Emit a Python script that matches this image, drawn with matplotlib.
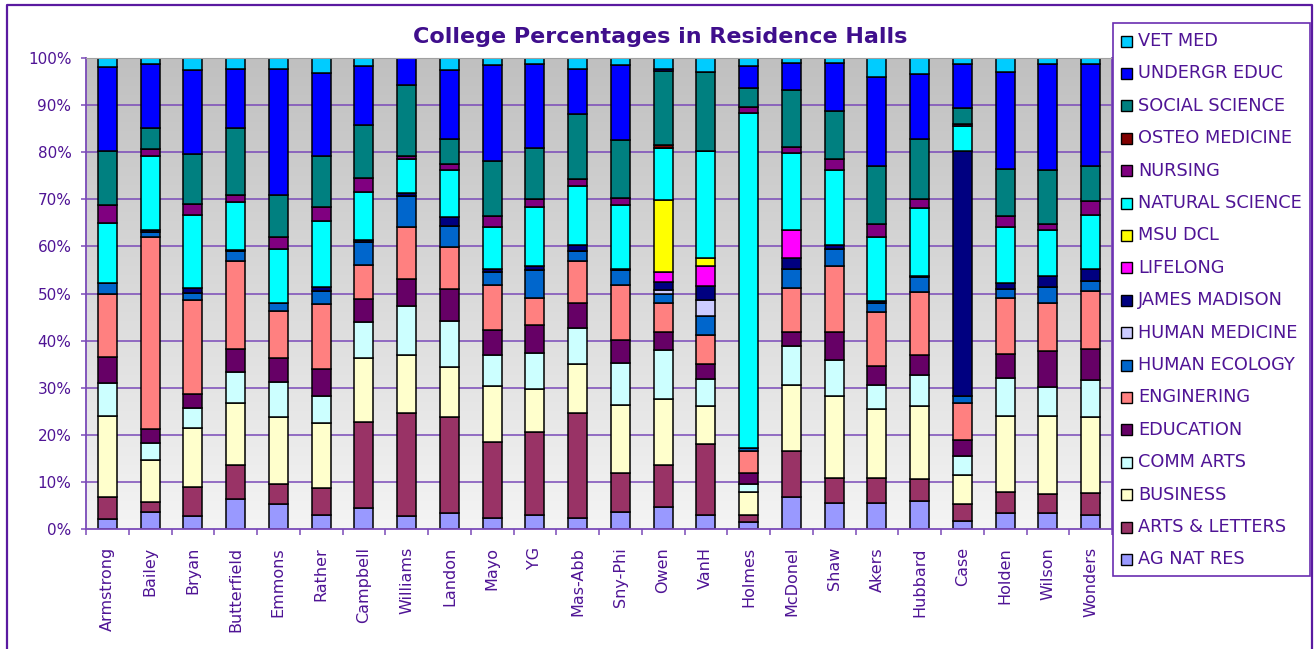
import numpy as np
import matplotlib
matplotlib.use("Agg")
import matplotlib.pyplot as plt
from matplotlib.patches import Rectangle
from matplotlib.lines import Line2D
from matplotlib.colors import LinearSegmentedColormap

halls = ["Armstrong", "Bailey", "Bryan", "Butterfield", "Emmons", "Rather", "Campbell",
         "Williams", "Landon", "Mayo", "YG", "Mas-Abb", "Sny-Phi", "Owen", "VanH",
         "Holmes", "McDonel", "Shaw", "Akers", "Hubbard", "Case", "Holden", "Wilson", "Wonders"]

ag_nat_res = [2.1, 3.7, 2.7, 6.4, 5.3, 3.0, 4.4, 2.7, 3.4, 2.3, 3.0, 2.3, 3.7, 4.7, 3.0, 1.4, 6.9, 5.6, 5.6, 5.9, 1.8, 3.4, 3.4, 3.0]
arts_letters = [4.6, 2.1, 6.3, 7.2, 4.2, 5.6, 18.3, 22.0, 20.3, 16.2, 17.5, 22.4, 8.2, 8.9, 15.1, 1.6, 9.6, 5.3, 5.3, 4.7, 3.5, 4.5, 4.0, 4.6]
business = [17.3, 8.7, 12.4, 13.1, 14.2, 13.9, 13.5, 12.2, 10.6, 11.9, 9.2, 10.3, 14.4, 14.1, 8.0, 4.9, 14.1, 17.3, 14.5, 15.5, 6.2, 16.1, 16.6, 16.1]
comm_arts = [6.9, 3.6, 4.3, 6.6, 7.5, 5.7, 7.8, 10.4, 9.8, 6.5, 7.7, 7.7, 8.9, 10.4, 5.7, 1.6, 8.2, 7.6, 5.2, 6.7, 3.9, 8.1, 6.2, 7.9]
education = [5.7, 3.1, 3.0, 5.0, 5.0, 5.7, 4.9, 5.7, 6.9, 5.3, 6.0, 5.3, 4.9, 3.7, 3.2, 2.4, 3.0, 6.0, 4.0, 4.1, 3.5, 5.1, 7.6, 6.7]
enginering = [13.3, 40.6, 20.0, 18.5, 10.1, 13.8, 7.2, 11.1, 8.9, 9.5, 5.7, 8.8, 11.8, 6.2, 6.1, 4.6, 9.4, 14.1, 11.4, 13.4, 7.8, 11.9, 10.2, 12.3]
human_ecology = [2.4, 1.0, 1.4, 2.2, 1.7, 2.8, 4.8, 6.5, 4.4, 2.9, 5.8, 2.3, 3.0, 1.9, 4.2, 0.8, 4.1, 3.6, 2.0, 3.2, 1.5, 1.9, 3.3, 2.0]
human_medicine = [0, 0, 0, 0, 0, 0, 0, 0, 0, 0, 0, 0, 0, 0.9, 3.4, 0, 0, 0, 0, 0, 0, 0, 0, 0]
james_madison = [0, 0.4, 1.1, 0.3, 0, 0.9, 0.5, 0.7, 1.9, 0.7, 1.0, 1.3, 0.4, 1.6, 2.9, 0, 2.3, 0.7, 0.4, 0.3, 52.0, 1.3, 2.4, 2.7]
lifelong = [0, 0, 0, 0, 0, 0, 0, 0, 0, 0, 0, 0, 0, 2.2, 4.2, 0, 5.8, 0, 0, 0, 0, 0, 0, 0]
msu_dcl = [0, 0, 0, 0, 0, 0, 0, 0, 0, 0, 0, 0, 0, 15.3, 1.8, 0, 0, 0, 0, 0, 0, 0, 0, 0]
natural_science = [12.7, 15.6, 15.5, 10.1, 11.5, 13.9, 10.1, 7.3, 10.1, 8.8, 12.4, 12.5, 13.4, 10.9, 22.6, 71.0, 16.5, 16.1, 13.7, 14.3, 5.3, 11.8, 9.7, 11.4]
nursing = [3.7, 1.6, 2.3, 1.6, 2.5, 3.0, 3.1, 0.5, 1.2, 2.3, 1.8, 1.4, 1.6, 0, 0, 1.4, 1.2, 2.2, 2.7, 2.0, 0.5, 2.3, 1.4, 3.0]
osteo_medicine = [0, 0, 0, 0, 0, 0, 0, 0, 0, 0, 0, 0, 0, 0.8, 0, 0, 0, 0, 0, 0, 0, 0, 0, 0]
social_science = [11.5, 4.3, 10.6, 14.1, 8.9, 10.8, 11.2, 15.2, 5.3, 11.8, 10.8, 13.8, 12.2, 15.7, 16.8, 3.9, 12.1, 10.3, 12.2, 12.7, 3.3, 10.1, 11.5, 7.3]
undergr_educ = [17.8, 13.6, 17.9, 12.6, 26.7, 17.8, 12.5, 5.7, 14.7, 20.3, 17.8, 9.6, 16.0, 0.4, 0, 4.7, 5.8, 10.2, 19.0, 13.8, 9.4, 20.5, 22.4, 21.7]
vet_med = [2.0, 1.3, 2.5, 2.3, 2.4, 3.1, 1.7, 0, 2.5, 1.5, 1.3, 2.3, 1.5, 2.3, 3.0, 1.7, 1.0, 1.0, 4.0, 3.4, 1.3, 3.0, 1.3, 1.3]

series_names = ["AG NAT RES", "ARTS & LETTERS", "BUSINESS", "COMM ARTS", "EDUCATION",
                "ENGINERING", "HUMAN ECOLOGY", "HUMAN MEDICINE", "JAMES MADISON", "LIFELONG",
                "MSU DCL", "NATURAL SCIENCE", "NURSING", "OSTEO MEDICINE", "SOCIAL SCIENCE",
                "UNDERGR EDUC", "VET MED"]
series_values = [ag_nat_res, arts_letters, business, comm_arts, education, enginering,
                 human_ecology, human_medicine, james_madison, lifelong, msu_dcl,
                 natural_science, nursing, osteo_medicine, social_science, undergr_educ, vet_med]
series_colors = ["#9999FF", "#993366", "#FFFFCC", "#CCFFFF", "#660066", "#FF8080",
                 "#0066CC", "#CCCCFF", "#000080", "#FF00FF", "#FFFF00", "#00FFFF",
                 "#800080", "#800000", "#008080", "#0000FF", "#00CCFF"]

title = "College Percentages in Residence Halls"
PURPLE = "#4F1495"
GRID = "#7A4AB8"

W, H = 1314, 649
fig = plt.figure(figsize=(W / 100, H / 100), dpi=100)
fig.patch.set_facecolor("white")

def fx(px):
    return px / W

def fy(py):
    return 1 - py / H

# outer chart border
fig.add_artist(Line2D([fx(7), fx(7), fx(1312), fx(1312)], [fy(652), fy(5), fy(5), fy(652)],
                      color="#5A1AA0", lw=1.6))

left, right, top, bottom = 86, 1112, 58, 529
ax = fig.add_axes([fx(left), fy(bottom), fx(right - left), (bottom - top) / H])

data = np.array(series_values, dtype=float)
data = data / data.sum(axis=0) * 100.0
x = np.arange(len(halls))

# gradient background: gray at top, near-white at bottom
grad = np.linspace(1, 0, 256).reshape(-1, 1)
cmap = LinearSegmentedColormap.from_list("bg", ["#C0C0C0", "#F4F4F4"])
ax.imshow(grad, extent=[-0.5, len(halls) - 0.5, 0, 100], origin="lower", cmap=cmap,
          aspect="auto", zorder=0, interpolation="bilinear", vmin=0, vmax=1)

for yv in range(10, 101, 10):
    ax.axhline(yv, color=GRID, lw=1.1, zorder=1)

bottoms = np.zeros(len(halls))
for vals, name, col in zip(data, series_names, series_colors):
    ax.bar(x, vals, 0.45, bottom=bottoms, color=col, edgecolor="black",
           linewidth=1.1, zorder=2, label=name)
    bottoms += vals

ax.set_xlim(-0.5, len(halls) - 0.5)
ax.set_ylim(0, 100)
ax.set_yticks(np.arange(0, 101, 10))
ax.set_yticklabels([f"{v}%" for v in range(0, 101, 10)], color=PURPLE, fontsize=11)
ax.tick_params(axis="y", direction="out", length=3.5, width=1.1, color=GRID, pad=7)
ax.set_xticks(x)
ax.set_xticklabels(halls, rotation=90, color=PURPLE, fontsize=11.5, va="top", ha="center")
ax.tick_params(axis="x", length=0, pad=13)
ax.set_xticks(np.arange(-0.5, len(halls), 1), minor=True)
ax.tick_params(axis="x", which="minor", direction="out", length=4.5, width=1.1, color=GRID)

for s in ["left", "bottom", "right"]:
    ax.spines[s].set_color(GRID)
    ax.spines[s].set_linewidth(1.3)
ax.spines["top"].set_color("#A0A0A0")
ax.spines["top"].set_linewidth(0.8)

fig.text(fx(660), fy(37), title, ha="center", va="center", fontsize=16,
         fontweight="bold", color="#3F0E8C")

# legend box
lx0, ly0, lx1, ly1 = 1113, 23, 1310, 576
fig.add_artist(Rectangle((fx(lx0), fy(ly1)), fx(lx1 - lx0), (ly1 - ly0) / H,
                         facecolor="white", edgecolor="#6A2DB0", lw=1.2, zorder=5))
row0, pitch = 41, 32.4
for i, (name, col) in enumerate(zip(series_names[::-1], series_colors[::-1])):
    yc = row0 + i * pitch
    fig.add_artist(Rectangle((fx(1121), fy(yc + 5.5)), fx(11), 11 / H,
                             facecolor=col, edgecolor="black", lw=1.0, zorder=6))
    fig.text(fx(1138), fy(yc), name, ha="left", va="center", fontsize=12.8,
             color=PURPLE, zorder=7)

fig.savefig("out.png", dpi=100)
